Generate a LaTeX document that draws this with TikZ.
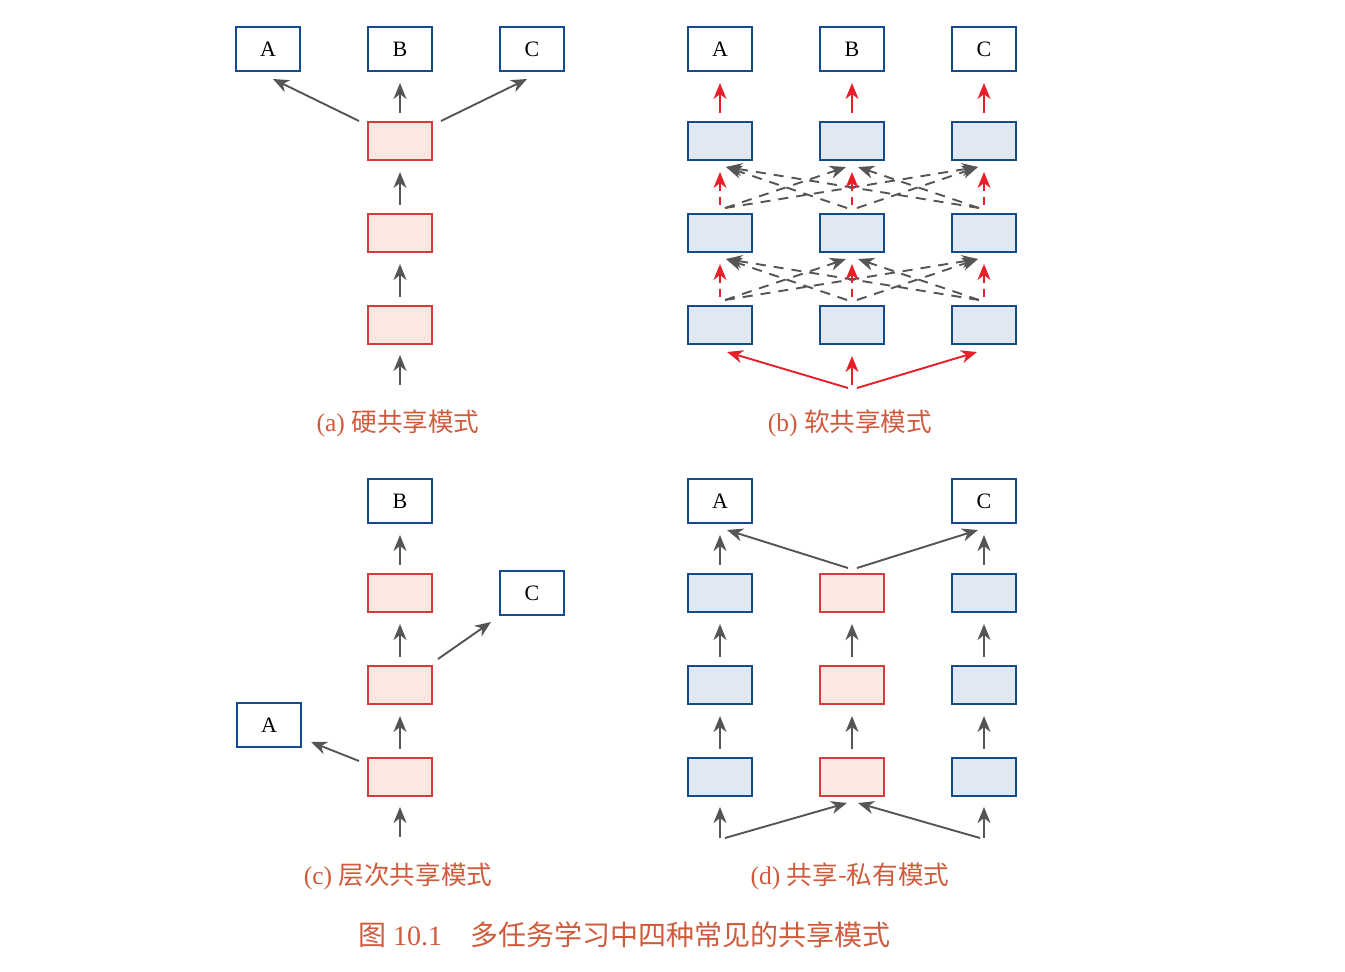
\documentclass[tikz,border=0pt]{standalone}
\usepackage{fontspec}
\setmainfont{Liberation Serif}
\newfontfamily\cjk{Noto Sans CJK SC}
\usepackage{xcolor}
\usepackage{tikz}
\usetikzlibrary{arrows.meta,positioning,calc}

\definecolor{blueline}{HTML}{144B8C}
\definecolor{bluefill}{HTML}{E0E8F4}
\definecolor{redline}{HTML}{D63C3C}
\definecolor{redfill}{HTML}{FCE8E0}
\definecolor{arrgray}{HTML}{555555}
\definecolor{arrred}{HTML}{E81E28}
\definecolor{capcol}{HTML}{CF5B3C}

\begin{document}
\begin{tikzpicture}[
    x=0.5pt, y=-0.5pt,
    >={Stealth[length=8pt,width=6.5pt,inset=2.5pt]},
    font=\fontsize{11}{12}\selectfont,
    node distance=26pt and 33pt,
    shared/.style ={draw=redline, fill=redfill, line width=1pt,
                    minimum width=32pt, minimum height=19pt, inner sep=0pt},
    private/.style={shared, draw=blueline, fill=bluefill},
    task/.style   ={draw=blueline, fill=white, line width=1pt,
                    minimum width=32pt, minimum height=22pt, inner sep=0pt},
    subcap/.style ={font=\fontsize{12.8}{14}\selectfont, text=capcol},
    arr/.style    ={->, line width=0.95pt, draw=arrgray},
    redarr/.style ={->, line width=0.95pt, draw=arrred},
    vsh/.style    ={shorten <=4.2pt, shorten >=5.5pt},
    xarr/.style   ={arr, dash pattern=on 5pt off 4pt},
    rdash/.style  ={redarr, vsh, dash pattern=on 4pt off 3pt}
]
\useasboundingbox (0,0) rectangle (1345,971);
% --- (a) hard sharing ----------------------------------------------------
\node[shared] at (400,325)          (a1) {};
\node[shared, above=of a1]          (a2) {};
\node[shared, above=of a2]          (a3) {};
\node[task, above=24.5pt of a3]     (aB) {B};
\node[task, left=of aB]             (aA) {A};
\node[task, right=of aB]            (aC) {C};
\coordinate (ain) at (400,385);
\draw[arr, shorten >=5pt] (ain) -- (a1);
\draw[arr, vsh] (a1) -- (a2);
\draw[arr, vsh] (a2) -- (a3);
\draw[arr, vsh] (a3) -- (aB);
\draw[arr] ($(a3.north west)+(-8,0)$) -- ($(aA.south)+(5,7)$);
\draw[arr] ($(a3.north east)+(8,0)$)  -- ($(aC.south)+(-5,7)$);
\node[subcap] at (398,423) (capa) {(a) {\cjk 硬共享模式}};
% --- (b) soft sharing ----------------------------------------------------
\node[private] at (720,325)         (bL1) {};
\node[private, right=of bL1]        (bM1) {};
\node[private, right=of bM1]        (bR1) {};
\node[private, above=of bL1]        (bL2) {};
\node[private, above=of bM1]        (bM2) {};
\node[private, above=of bR1]        (bR2) {};
\node[private, above=of bL2]        (bL3) {};
\node[private, above=of bM2]        (bM3) {};
\node[private, above=of bR2]        (bR3) {};
\node[task, above=24.5pt of bL3]    (bA) {A};
\node[task, above=24.5pt of bM3]    (bB) {B};
\node[task, above=24.5pt of bR3]    (bC) {C};
% cross links, rows 1 -> 2
\draw[xarr] ($(bL1.north)+(5,-5)$)  -- ($(bM2.south)+(-6,6)$);
\draw[xarr] ($(bL1.north)+(5,-5)$)  -- ($(bR2.south)+(-6,6)$);
\draw[xarr] ($(bM1.north)+(-5,-5)$) -- ($(bL2.south)+(6,6)$);
\draw[xarr] ($(bM1.north)+(5,-5)$)  -- ($(bR2.south)+(-6,6)$);
\draw[xarr] ($(bR1.north)+(-5,-5)$) -- ($(bL2.south)+(6,6)$);
\draw[xarr] ($(bR1.north)+(-5,-5)$) -- ($(bM2.south)+(6,6)$);
% cross links, rows 2 -> 3
\draw[xarr] ($(bL2.north)+(5,-5)$)  -- ($(bM3.south)+(-6,6)$);
\draw[xarr] ($(bL2.north)+(5,-5)$)  -- ($(bR3.south)+(-6,6)$);
\draw[xarr] ($(bM2.north)+(-5,-5)$) -- ($(bL3.south)+(6,6)$);
\draw[xarr] ($(bM2.north)+(5,-5)$)  -- ($(bR3.south)+(-6,6)$);
\draw[xarr] ($(bR2.north)+(-5,-5)$) -- ($(bL3.south)+(6,6)$);
\draw[xarr] ($(bR2.north)+(-5,-5)$) -- ($(bM3.south)+(6,6)$);
% own column
\draw[rdash] (bL1) -- (bL2);
\draw[rdash] (bM1) -- (bM2);
\draw[rdash] (bR1) -- (bR2);
\draw[rdash] (bL2) -- (bL3);
\draw[rdash] (bM2) -- (bM3);
\draw[rdash] (bR2) -- (bR3);
\draw[redarr, vsh] (bL3) -- (bA);
\draw[redarr, vsh] (bM3) -- (bB);
\draw[redarr, vsh] (bR3) -- (bC);
\coordinate (bin) at (852,388);
\draw[redarr, shorten <=1.5pt, shorten >=5.5pt] (bin) -- (bM1);
\draw[redarr] ($(bin)+(-4,0)$) -- ($(bL1.south)+(7,7)$);
\draw[redarr] ($(bin)+(5,0)$)  -- ($(bR1.south)+(-7,7)$);
\node[subcap] at (850,423) (capb) {(b) {\cjk 软共享模式}};
% --- (c) hierarchical sharing -------------------------------------------
\node[shared] at (400,777)          (c1) {};
\node[shared, above=of c1]          (c2) {};
\node[shared, above=of c2]          (c3) {};
\node[task, above=24.5pt of c3]     (cB) {B};
\node[task, right=of c3]            (cC) {C};
\node[task] at (269,725)            (cA) {A};
\coordinate (cin) at (400,837);
\draw[arr, shorten >=5pt] (cin) -- (c1);
\draw[arr, vsh] (c1) -- (c2);
\draw[arr, vsh] (c2) -- (c3);
\draw[arr, vsh] (c3) -- (cB);
\draw[arr] ($(c2.north east)+(5,-6)$) -- ($(cC.south west)+(-8,6)$);
\draw[arr] ($(c1.north west)+(-8,4)$) -- ($(cA.south east)+(9,-6)$);
\node[subcap] at (398,876) (capc) {(c) {\cjk 层次共享模式}};
% --- (d) shared-private -------------------------------------------------
\node[private] at (720,777)         (dL1) {};
\node[shared, right=of dL1]         (dM1) {};
\node[private, right=of dM1]        (dR1) {};
\node[private, above=of dL1]        (dL2) {};
\node[shared, above=of dM1]         (dM2) {};
\node[private, above=of dR1]        (dR2) {};
\node[private, above=of dL2]        (dL3) {};
\node[shared, above=of dM2]         (dM3) {};
\node[private, above=of dR2]        (dR3) {};
\node[task, above=24.5pt of dL3]    (dA) {A};
\node[task, above=24.5pt of dR3]    (dC) {C};
\coordinate (dinL) at (720,838);
\coordinate (dinR) at (984,838);
\draw[arr, shorten >=5pt] (dinL) -- (dL1);
\draw[arr, shorten >=5pt] (dinR) -- (dR1);
\draw[arr] ($(dinL)+(5,0)$)  -- ($(dM1.south)+(-5,6)$);
\draw[arr] ($(dinR)+(-4,0)$) -- ($(dM1.south)+(6,6)$);
\draw[arr, vsh] (dL1) -- (dL2);
\draw[arr, vsh] (dL2) -- (dL3);
\draw[arr, vsh] (dL3) -- (dA);
\draw[arr, vsh] (dM1) -- (dM2);
\draw[arr, vsh] (dM2) -- (dM3);
\draw[arr, vsh] (dR1) -- (dR2);
\draw[arr, vsh] (dR2) -- (dR3);
\draw[arr, vsh] (dR3) -- (dC);
\draw[arr] ($(dM3.north)+(-4,-5)$) -- ($(dA.south)+(7,6)$);
\draw[arr] ($(dM3.north)+(5,-5)$)  -- ($(dC.south)+(-6,6)$);
\node[subcap] at (850,876) (capd) {(d) {\cjk 共享-私有模式}};
% --- figure caption -----------------------------------------------------
\node[font=\fontsize{14}{16}\selectfont, text=capcol] at (624,935) (fig)
    {{\cjk 图} 10.1\quad{\cjk 多任务学习中四种常见的共享模式}};
\end{tikzpicture}
\end{document}
